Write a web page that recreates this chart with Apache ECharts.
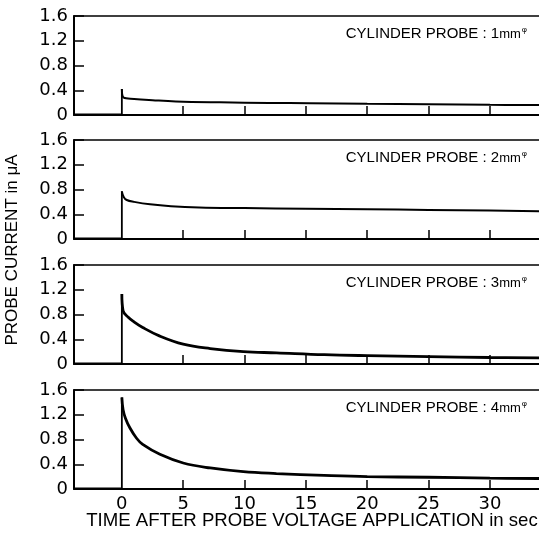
<!DOCTYPE html>
<html>
<head>
<meta charset="utf-8">
<script src="https://cdn.jsdelivr.net/npm/echarts@6/dist/echarts.min.js"></script>
<style>
html, body { margin: 0; padding: 0; background: #fff; }
#chart { width: 539px; height: 538px; }
</style>
</head>
<body>
<div id="chart"></div>
<script>
// probe sizes (mm), one panel each
var probeSizes = ['1', '2', '3', '4'];

// time after probe voltage (sec) / probe current (uA)
// first three points: baseline and the switch-on spike
var time1 = [-3.9, 0, 0, 0.15, 1, 2.5, 4.4, 8, 12, 15.3, 20, 25, 30, 34];
var current1 = [0.01, 0.01, 0.42, 0.28, 0.26, 0.24, 0.22, 0.205, 0.195, 0.19, 0.18, 0.175, 0.165, 0.16];

var time2 = [-3.9, 0, 0, 0.15, 0.4, 1, 2.3, 4, 6.3, 10, 15, 20, 25, 30, 34];
var current2 = [0.01, 0.01, 0.77, 0.68, 0.63, 0.6, 0.56, 0.53, 0.51, 0.5, 0.49, 0.48, 0.47, 0.46, 0.45];

var time3 = [-3.9, 0, 0, 0.1, 0.5, 1, 1.7, 3.1, 5, 7.2, 9.9, 12.6, 16.5, 20, 25, 30, 34];
var current3 = [0.01, 0.01, 1.13, 0.86, 0.76, 0.68, 0.59, 0.45, 0.32, 0.25, 0.2, 0.18, 0.15, 0.135, 0.12, 0.105, 0.1];

var time4 = [-3.9, 0, 0, 0.1, 0.3, 0.65, 1.2, 1.7, 3.1, 5, 7.2, 9.9, 12.6, 16.5, 20, 25, 30, 34];
var current4 = [0.01, 0.01, 1.48, 1.28, 1.14, 0.99, 0.82, 0.72, 0.56, 0.42, 0.34, 0.28, 0.25, 0.22, 0.2, 0.19, 0.175, 0.17];

var yTicks = [0, 0.4, 0.8, 1.2, 1.6];
var xTickValues = [5, 10, 15, 20, 25, 30];
var xLabelValues = [0, 5, 10, 15, 20, 25, 30];

var times = [time1, time2, time3, time4];
var currents = [current1, current2, current3, current4];
var lineWidths = [2, 2, 2.8, 2.8];
var gridTops = [16, 140, 265, 390];

var chart = echarts.init(document.getElementById('chart'));

var grids = [], xAxes = [], yAxes = [], series = [], graphics = [];
for (var i = 0; i < 4; i++) {
    grids.push({ left: 74, right: 0, top: gridTops[i], height: 99 });
    // bottom axis with inward ticks
    xAxes.push({
        type: 'value', gridIndex: i, min: -3.9, max: 34, position: 'bottom',
        splitLine: { show: false },
        axisLine: { onZero: false, lineStyle: { color: '#000', width: 2 } },
        axisTick: { inside: true, length: 9, customValues: xTickValues, lineStyle: { color: '#000', width: 1.5 } },
        axisLabel: {
            show: i === 3, customValues: xLabelValues, margin: 6,
            color: '#000', fontFamily: 'DejaVu Sans', fontSize: 18
        }
    });
    // top frame line
    xAxes.push({
        type: 'value', gridIndex: i, min: -3.9, max: 34, position: 'top',
        splitLine: { show: false }, axisTick: { show: false }, axisLabel: { show: false },
        axisLine: { onZero: false, lineStyle: { color: '#000', width: 1.5 } }
    });
    yAxes.push({
        type: 'value', gridIndex: i, min: 0, max: 1.6, interval: 0.4,
        splitLine: { show: false },
        axisLine: { onZero: false, lineStyle: { color: '#000', width: 2 } },
        axisTick: { inside: true, length: 10, lineStyle: { color: '#000', width: 1.5 } },
        axisLabel: {
            margin: 6, color: '#000', fontFamily: 'DejaVu Sans', fontSize: 18,
            formatter: function (v) { return v === 0 ? '0' : v.toFixed(1); }
        }
    });
    var pts = [];
    for (var k = 0; k < times[i].length; k++) pts.push([times[i][k], currents[i][k]]);
    // baseline + spike, straight
    series.push({
        type: 'line', xAxisIndex: i * 2, yAxisIndex: i,
        data: pts.slice(0, 3), symbol: 'none',
        lineStyle: { color: '#000', width: 1.8 }
    });
    // decay, smooth
    series.push({
        type: 'line', xAxisIndex: i * 2, yAxisIndex: i,
        data: pts.slice(2), symbol: 'none', smooth: 0.4,
        lineStyle: { color: '#000', width: lineWidths[i] }
    });
    // 面板标注
    graphics.push({
        type: 'text', right: 12, top: gridTops[i] + 10,
        style: {
            text: '{a|CYLINDER PROBE : ' + probeSizes[i] + '}{b|mm}{c|φ}',
            rich: {
                a: { fontFamily: 'Liberation Sans', fontSize: 15, fill: '#000' },
                b: { fontFamily: 'Liberation Sans', fontSize: 13, fill: '#000' },
                c: { fontFamily: 'Liberation Sans', fontSize: 8, fill: '#000', verticalAlign: 'top', padding: [0, 0, 8, 1] }
            }
        }
    });
}

graphics.push({
    type: 'text', x: 12, y: 250, rotation: Math.PI / 2,
    style: {
        text: 'PROBE CURRENT in μA', fontFamily: 'Liberation Sans', fontSize: 17,
        fill: '#000', textAlign: 'center', textVerticalAlign: 'middle'
    }
});
graphics.push({
    type: 'text', x: 312, y: 521,
    style: {
        text: 'TIME AFTER PROBE VOLTAGE APPLICATION in sec', fontFamily: 'Liberation Sans', fontSize: 18.6,
        fill: '#000', textAlign: 'center', textVerticalAlign: 'middle'
    }
});

chart.setOption({
    animation: false,
    backgroundColor: '#fff',
    grid: grids,
    xAxis: xAxes,
    yAxis: yAxes,
    series: series,
    graphic: graphics
});
</script>
</body>
</html>
